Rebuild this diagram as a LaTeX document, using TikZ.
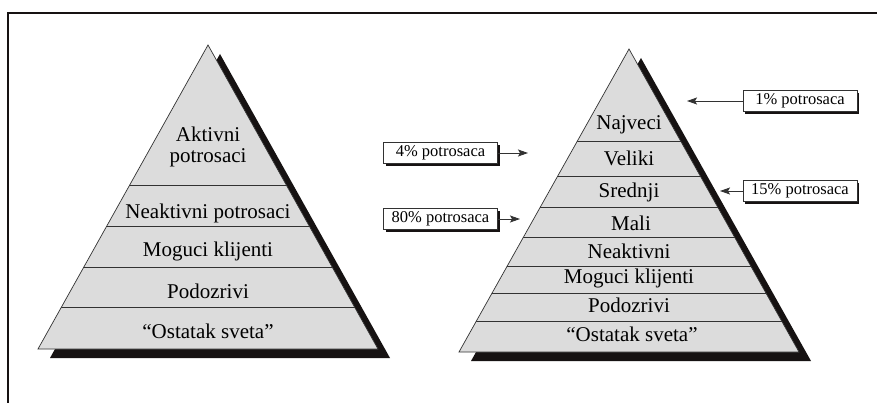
\documentclass[tikz,border=0pt]{standalone}
\usepackage{fontspec}
\setmainfont{Liberation Serif}
\usetikzlibrary{arrows.meta}
\definecolor{layergray}{RGB}{220,220,220}
\definecolor{castblack}{RGB}{22,18,18}
\definecolor{edge}{RGB}{50,50,50}
\tikzset{
  x=1pt, y=-1pt,
  tier/.style={font=\fontsize{21}{23}\selectfont, inner sep=0pt, align=center},
  share/.style={draw=edge, line width=0.8pt, fill=white, minimum width=114pt,
    minimum height=21pt, inner sep=0pt, font=\fontsize{16.5}{18}\selectfont},
  sharebk/.style={fill=castblack, draw=none},
  pointer/.style={line width=0.9pt, draw=edge, -{Stealth[length=10pt,width=7pt,inset=2pt]}},
  divider/.style={draw=edge, line width=0.7pt},
}
% pyramid: apex (#1,#2), base at #3, half base width 170
\newcommand{\pyr}[3]{%
  \fill[castblack] (#1+12,#2+9) -- (#1+182,#3+9) -- (#1-158,#3+9) -- cycle;
  \filldraw[fill=layergray, draw=edge, line width=0.7pt] (#1,#2) -- (#1+170,#3) -- (#1-170,#3) -- cycle;
}
\begin{document}
\begin{tikzpicture}
\useasboundingbox (0,0) rectangle (877,403);
\fill[white] (0,0) rectangle (877,403);
% outer frame
\draw[line width=2pt, draw=castblack] (8,403) -- (8,13) -- (877,13);

% left pyramid
\pyr{208}{45}{349}
\begin{scope}
  \clip (208,45) -- (378,349) -- (38,349) -- cycle;
  \foreach \yy in {185,226,267,307} \draw[divider] (30,\yy) -- (400,\yy);
\end{scope}
\node[tier] (la) at (208,147) {Aktivni\\[-2pt]potrosaci};
\node[tier] (lb) at (208,213) {Neaktivni potrosaci};
\node[tier] (lc) at (208,251) {Moguci klijenti};
\node[tier] (ld) at (208,291) {Podozrivi};
\node[tier] (le) at (208,331) {“Ostatak sveta”};

% right pyramid
\pyr{629}{49}{352}
\begin{scope}
  \clip (629,49) -- (799,352) -- (459,352) -- cycle;
  \foreach \yy in {141,176,207,237,266,293,321} \draw[divider] (450,\yy) -- (810,\yy);
\end{scope}
\node[tier] (ra) at (629,125) {Najveci};
\node[tier] (rb) at (629,158) {Veliki};
\node[tier] (rc) at (629,192) {Srednji};
\node[tier] (rd) at (631,223) {Mali};
\node[tier] (re) at (629,251) {Neaktivni};
\node[tier] (rf) at (629,278) {Moguci klijenti};
\node[tier] (rg) at (629,305) {Podozrivi};
\node[tier] (rh) at (632,334) {“Ostatak sveta”};

% share labels with their pointers
\coordinate (t4) at (528,153);
\coordinate (t80) at (520,219);
\coordinate (t1) at (687,101);
\coordinate (t15) at (720,191);
\fill[sharebk] (442.5,155.5) ++(-57,-10.5) rectangle ++(114,21);
\node[share] (p4) at (440.5,153) {4\% potrosaca};
\fill[sharebk] (442.5,221.5) ++(-57,-10.5) rectangle ++(114,21);
\node[share] (p80) at (440.5,219) {80\% potrosaca};
\fill[sharebk] (802,103.5) ++(-57,-10.5) rectangle ++(114,21);
\node[share] (p1) at (800,101) {1\% potrosaca};
\fill[sharebk] (802,193.5) ++(-57,-10.5) rectangle ++(114,21);
\node[share] (p15) at (800,191) {15\% potrosaca};
\draw[pointer] (p4.east) -- (t4);
\draw[pointer] (p80.east) -- (t80);
\draw[pointer] (p1.west) -- (t1);
\draw[pointer] (p15.west) -- (t15);
\end{tikzpicture}
\end{document}
